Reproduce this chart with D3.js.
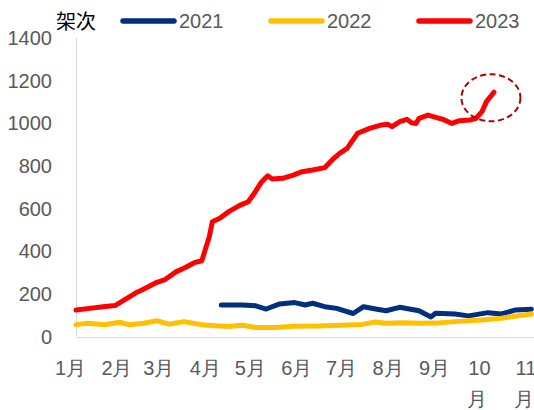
<!DOCTYPE html>
<html>
<head>
<meta charset="utf-8">
<script src="https://cdn.jsdelivr.net/npm/d3@7/dist/d3.min.js"></script>
<style>
  body { margin: 0; background: #fff; }
  svg { display: block; }
</style>
</head>
<body>
<script>
// month labels on the x axis
var monthLabels = ['1月', '2月', '3月', '4月', '5月', '6月', '7月', '8月', '9月', '10月', '11月', '12月'];
var yTicks = [0, 200, 400, 600, 800, 1000, 1200, 1400];
var seriesNames = ['2021', '2022', '2023'];
var seriesColors = ['#002F7E', '#FFC000', '#FF0000'];

// 2023 (red)
var dates2023 = ['01-05', '01-14', '01-23', '01-31', '02-08', '02-14', '02-18', '02-28', '03-05', '03-13',
  '03-18', '03-25', '03-30', '04-04', '04-06', '04-11', '04-17', '04-19', '04-24', '04-30',
  '05-04', '05-09', '05-13', '05-16', '05-23', '05-30', '06-05', '06-12', '06-20', '06-25',
  '06-30', '07-05', '07-08', '07-12', '07-20', '07-28', '08-01', '08-04', '08-09', '08-14',
  '08-17', '08-20', '08-22', '08-28', '09-01', '09-07', '09-13', '09-18', '09-25', '09-29',
  '10-03', '10-06', '10-11'];
var values2023 = [126, 134, 142, 147, 181, 207, 220, 256, 267, 306,
  322, 348, 357, 470, 540, 556, 587, 595, 615, 633,
  673, 727, 755, 740, 743, 758, 774, 782, 793, 829,
  860, 883, 914, 954, 977, 993, 996, 985, 1008, 1019,
  1003, 1000, 1024, 1039, 1031, 1019, 1000, 1013, 1016, 1024,
  1055, 1102, 1146];

// 2022 (yellow)
var dates2022 = ['01-05', '01-13', '01-24', '02-03', '02-10', '02-19', '02-28', '03-08', '03-18', '03-30',
  '04-08', '04-17', '04-26', '05-05', '05-18', '05-31', '06-16', '07-01', '07-15', '07-24',
  '07-31', '08-11', '08-24', '09-02', '09-15', '10-03', '10-16', '10-25', '11-05'];
var values2022 = [58, 64, 57, 69, 57, 64, 76, 60, 72, 57,
  53, 49, 55, 44, 45, 50, 51, 55, 59, 70,
  64, 67, 64, 65, 72, 80, 88, 97, 108];

// 2021 (blue)
var dates2021 = ['04-12', '04-26', '05-05', '05-12', '05-21', '05-31', '06-07', '06-12', '06-20', '06-28',
  '07-09', '07-16', '07-25', '07-31', '08-09', '08-22', '08-30', '09-02', '09-15', '09-24',
  '10-07', '10-16', '10-25', '11-05'];
var values2021 = [150, 150, 146, 131, 155, 161, 150, 158, 142, 134,
  110, 142, 130, 123, 139, 123, 94, 111, 108, 99,
  114, 108, 126, 130];

var width = 534;
var height = 410;
var plotLeft = 77;
var plotTop = 38;
var plotBottom = 337;

var parse = function(s) { return d3.timeParse('%Y-%m-%d')('2023-' + s); };

var x = d3.scaleTime()
  .domain([parse('01-01'), parse('12-31')])
  .range([70, 70 + 1.498 * 364]);

var y = d3.scaleLinear()
  .domain([0, 1400])
  .range([plotBottom, plotTop]);

var svg = d3.select('body')
  .append('svg')
  .attr('width', width)
  .attr('height', height)
  .style('font-family', '"Liberation Sans", Arial, sans-serif');

//axis lines
svg.append('line')
  .attr('x1', plotLeft).attr('x2', width)
  .attr('y1', plotBottom + 0.5).attr('y2', plotBottom + 0.5)
  .attr('stroke', '#d9d9d9');
svg.append('line')
  .attr('x1', plotLeft - 0.5).attr('x2', plotLeft - 0.5)
  .attr('y1', plotTop).attr('y2', plotBottom)
  .attr('stroke', '#d9d9d9');

//y axis labels
var yAxis = svg.append('g')
  .attr('transform', 'translate(' + plotLeft + ',0)')
  .call(d3.axisLeft(y).tickValues(yTicks).tickSize(0).tickPadding(25).tickFormat(d3.format('d')));
yAxis.select('.domain').remove();
yAxis.selectAll('text')
  .attr('fill', '#595959')
  .style('font-size', '20px');

//x axis labels, long ones wrap onto two lines
var monthDates = d3.timeMonths(parse('01-01'), parse('12-31'));
var xAxis = svg.append('g')
  .attr('transform', 'translate(0,' + plotBottom + ')')
  .call(d3.axisBottom(x).tickValues(monthDates).tickSize(0).tickFormat(''));
xAxis.select('.domain').remove();
xAxis.selectAll('.tick').each(function(d, i) {
  var label = monthLabels[i];
  var t = d3.select(this).append('text')
    .attr('fill', '#595959')
    .attr('text-anchor', 'middle')
    .style('font-size', '20px')
    .attr('y', 38);
  if (label.length > 2) {
    t.append('tspan').attr('x', 0).text(label.slice(0, -1));
    t.append('tspan').attr('x', -2).attr('dy', 31).text(label.slice(-1));
  } else {
    t.text(label);
  }
});

var line = d3.line()
  .x(function(d) { return x(d.date); })
  .y(function(d) { return y(d.value); });

var series = [
  { dates: dates2021, values: values2021, color: seriesColors[0] },
  { dates: dates2022, values: values2022, color: seriesColors[1] },
  { dates: dates2023, values: values2023, color: seriesColors[2] }
];

series.forEach(function(s) {
  var pts = s.dates.map(function(d, i) {
    return { date: parse(d), value: s.values[i] };
  });
  svg.append('path')
    .datum(pts)
    .attr('d', line)
    .attr('fill', 'none')
    .attr('stroke', s.color)
    .attr('stroke-width', 5)
    .attr('stroke-linejoin', 'round')
    .attr('stroke-linecap', 'round');
});

//dashed ellipse around the latest rise
svg.append('ellipse')
  .attr('cx', x(parse('10-09')))
  .attr('cy', y(1120))
  .attr('rx', 29.5)
  .attr('ry', 23.5)
  .attr('fill', 'none')
  .attr('stroke', '#B00000')
  .attr('stroke-width', 2)
  .attr('stroke-dasharray', '6,3.5');

//unit label
svg.append('text')
  .attr('x', 56)
  .attr('y', 29)
  .attr('fill', '#000')
  .style('font-family', '"Noto Sans CJK SC", sans-serif')
  .style('font-size', '20px')
  .text('架次');

//legend
var legendX = [121, 269, 417];
seriesNames.forEach(function(name, i) {
  var g = svg.append('g').attr('transform', 'translate(' + legendX[i] + ',21)');
  g.append('line')
    .attr('x1', 2).attr('x2', 53)
    .attr('stroke', seriesColors[i])
    .attr('stroke-width', 5.5)
    .attr('stroke-linecap', 'round');
  g.append('text')
    .attr('x', 58)
    .attr('y', 7)
    .attr('fill', '#595959')
    .style('font-size', '20px')
    .text(name);
});
</script>
</body>
</html>
